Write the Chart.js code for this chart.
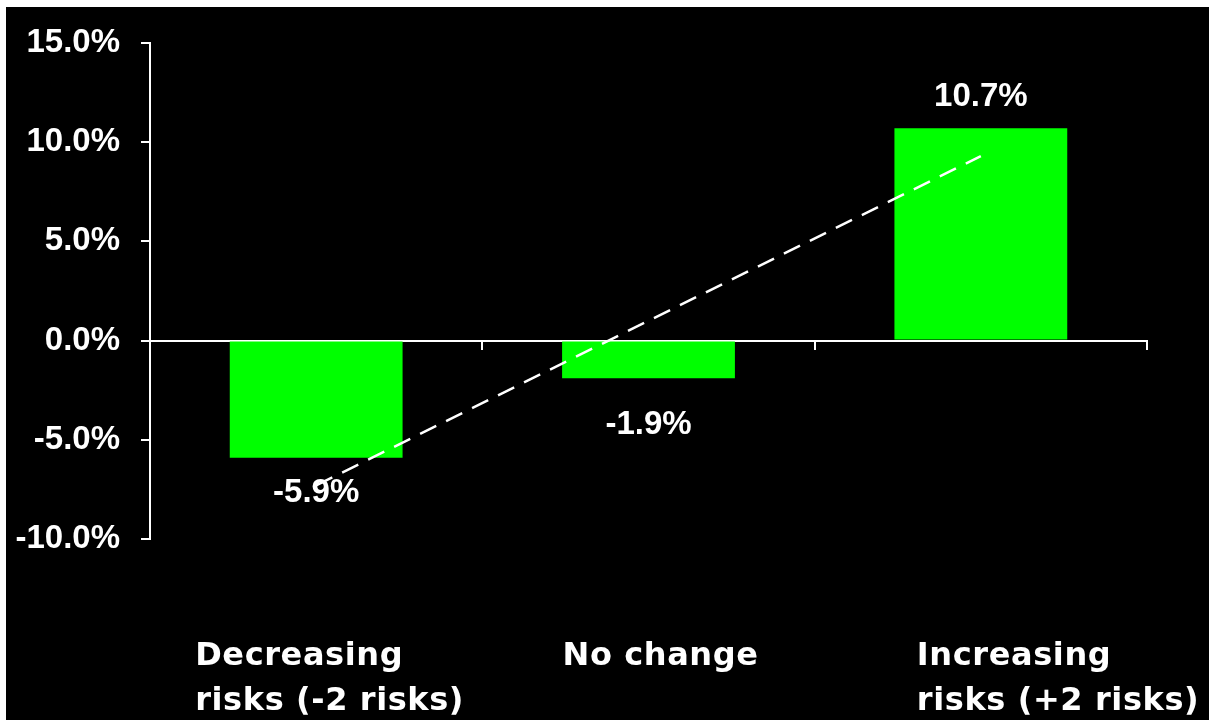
<!DOCTYPE html>
<html>
<head>
<meta charset="utf-8">
<script src="https://cdn.jsdelivr.net/npm/chart.js@4.4.0/dist/chart.umd.min.js"></script>
<style>
  html, body { margin: 0; padding: 0; background: #ffffff; width: 1209px; height: 720px; overflow: hidden; }
  #wrap { position: absolute; left: 6px; top: 7px; width: 1203px; height: 713px; background: #000000; }
</style>
</head>
<body>
<div id="wrap"><canvas id="c"></canvas></div>
<script>
// ---- data ----
const categories = [
  ['Decreasing', 'risks (-2 risks)'],
  ['No change'],
  ['Increasing', 'risks (+2 risks)']
];
const values = [-5.9, -1.9, 10.7];
const trendValues = [-7.3, 1.0, 9.3];   // dashed trend line
const yTicks = [-10, -5, 0, 5, 10, 15];

const textPlugin = {
  id: 'customText',
  afterDatasetsDraw(chart, args, opts) {
    const ctx = chart.ctx;
    const meta = chart.getDatasetMeta(0);
    const xs = chart.scales.x;
    ctx.save();
    ctx.fillStyle = '#ffffff';
    ctx.font = 'bold 33px "Liberation Sans", Arial, sans-serif';
    ctx.textAlign = 'center';
    ctx.textBaseline = 'middle';
    values.forEach((v, i) => {
      const el = meta.data[i];
      ctx.fillText(v.toFixed(1) + '%', el.x, el.y + opts.valueOffsets[i]);
    });
    ctx.font = 'bold 32px "DejaVu Sans", Verdana, sans-serif';
    if ('letterSpacing' in ctx) ctx.letterSpacing = '0.6px';
    ctx.textAlign = 'left';
    ctx.textBaseline = 'alphabetic';
    const top = chart.chartArea.bottom + opts.labelDrop;
    categories.forEach((lines, i) => {
      const cx = xs.getPixelForValue(i) + opts.labelShift[i];
      lines.forEach((ln, j) => ctx.fillText(ln, cx, top + j * opts.lineGap));
    });
    ctx.restore();
  }
};

new Chart(document.getElementById('c'), {
  type: 'bar',
  data: {
    labels: categories,
    datasets: [
      {
        type: 'bar',
        data: values,
        backgroundColor: '#00ff00',
        borderWidth: 0,
        barPercentage: 0.52,
        categoryPercentage: 1.0,
        order: 1
      },
      {
        type: 'line',
        data: trendValues,
        borderColor: '#ffffff',
        borderWidth: 2.5,
        borderDash: [18, 11],
        pointRadius: 0,
        fill: false,
        tension: 0,
        order: 0
      }
    ]
  },
  options: {
    responsive: true,
    maintainAspectRatio: false,
    animation: false,
    layout: { padding: { left: 0, top: 36, right: 62, bottom: 181 } },
    plugins: {
      legend: { display: false },
      tooltip: { enabled: false },
      customText: {
        valueOffsets: [35, 47, -31],
        labelShift: [-121, -86, -64],
        labelDrop: 126,
        lineGap: 45
      }
    },
    scales: {
      x: {
        type: 'category',
        position: { y: 0 },
        offset: true,
        ticks: { display: false },
        grid: {
          display: true,
          offset: true,
          drawOnChartArea: false,
          drawTicks: true,
          tickLength: 8,
          color: '#ffffff',
          lineWidth: 2
        },
        border: { display: true, color: '#ffffff', width: 2 }
      },
      y: {
        position: 'left',
        min: -10,
        max: 15,
        afterFit(scale) {
          scale.width = 144;
          scale.paddingTop = 0;
          scale.paddingBottom = 0;
        },
        afterBuildTicks(scale) { scale.ticks = yTicks.map(v => ({ value: v })); },
        ticks: {
          color: '#ffffff',
          padding: 21,
          font: { family: '"Liberation Sans", Arial, sans-serif', size: 33, weight: 'bold' },
          callback: (v) => Number(v).toFixed(1) + '%'
        },
        grid: {
          display: true,
          drawOnChartArea: false,
          drawTicks: true,
          tickLength: 9,
          color: '#ffffff',
          lineWidth: 2
        },
        border: { display: true, color: '#ffffff', width: 2 }
      }
    }
  },
  plugins: [textPlugin]
});
</script>
</body>
</html>
